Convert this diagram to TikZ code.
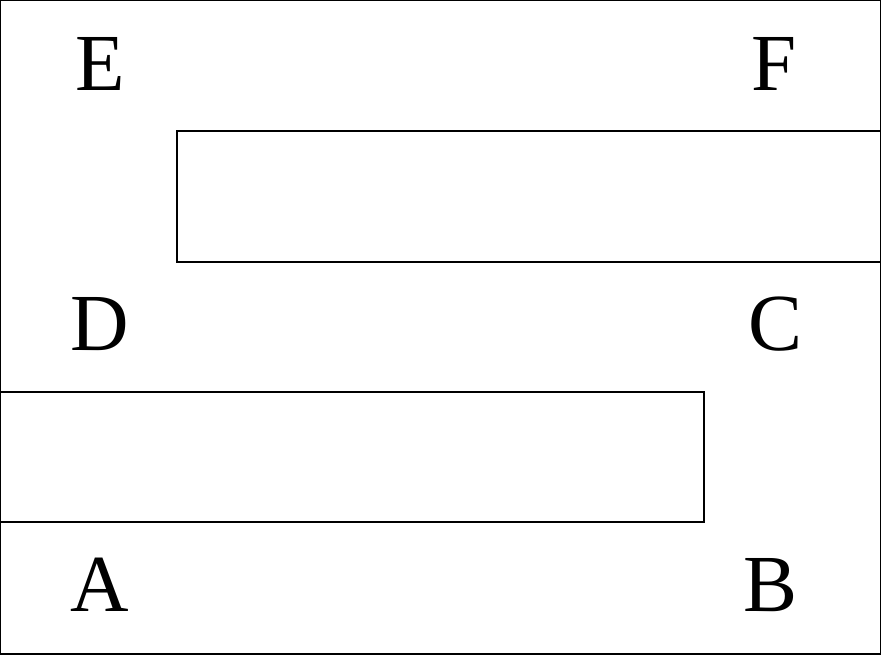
\documentclass[tikz,border=0pt]{standalone}
\usepackage{fontspec}
\setmainfont{Liberation Serif}

\begin{document}
\begin{tikzpicture}[x=1pt, y=-1pt,
    corner/.style={anchor=base, inner sep=0pt, font=\fontsize{81}{81}\selectfont},
    wall/.style={draw, line width=1.5pt}]
    \useasboundingbox (0, 0) rectangle (881, 654);
    \draw[line width=2.5pt] (0, 0) rectangle (881, 654);

    \draw[wall] (881, 131) -- (177, 131) -- (177, 262) -- (881, 262);
    \draw[wall] (0, 392) -- (704, 392) -- (704, 522) -- (0, 522);

    \node at (100, 90) [corner] (e) {E};
    \node at (774, 90) [corner] (f) {F};
    \node at (100, 350) [corner] (d) {D};
    \node at (776, 350) [corner] (c) {C};
    \node at (100, 611) [corner] (a) {A};
    \node at (771, 611) [corner] (b) {B};

\end{tikzpicture}
\end{document}
